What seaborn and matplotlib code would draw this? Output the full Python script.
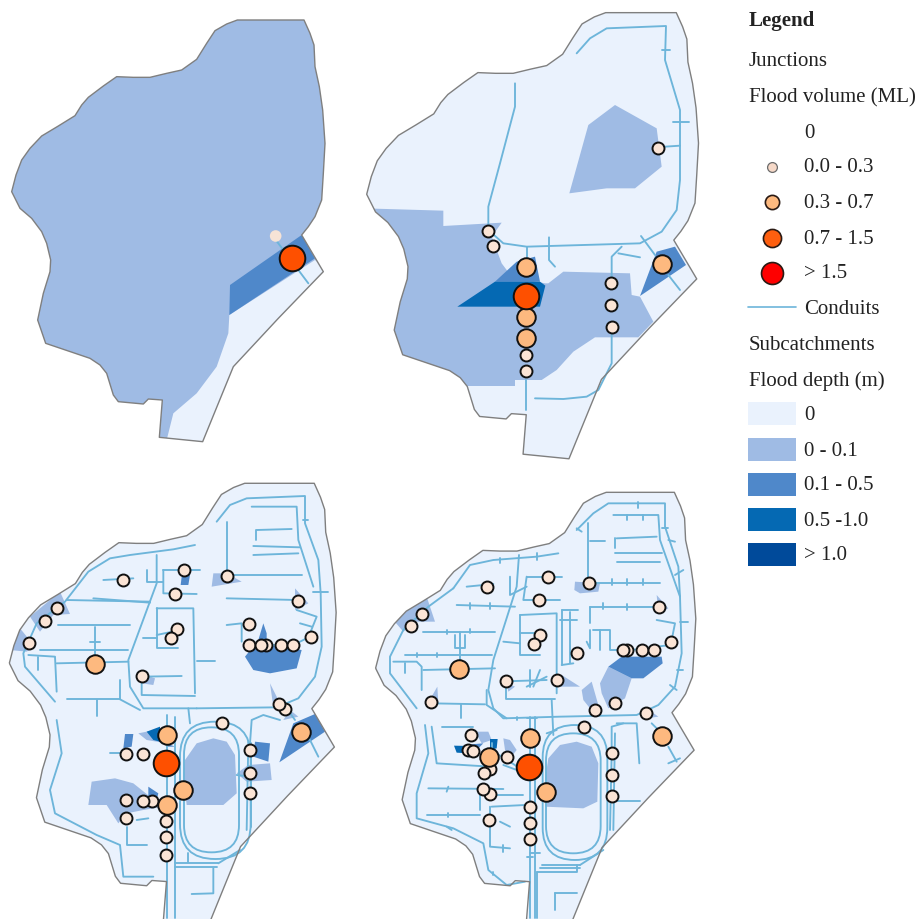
import matplotlib
matplotlib.use("Agg")
import matplotlib.pyplot as plt
from matplotlib.patches import Polygon, FancyBboxPatch, Rectangle
import pandas as pd
import seaborn as sns

sns.set_theme(style="white")
plt.rcParams['font.family'] = ['Liberation Serif', 'DejaVu Serif']

C0, C1, C2, C3, C4 = "#EAF2FD", "#9FBBE4", "#4F88CA", "#0569B3", "#004A9A"
CONDUIT = "#6DB5DA"
EDGE = "#7F7F7F"
J_COL = {"s": "#FBE4D5", "m": "#FDB97F", "l": "#FE5000", "f": "#F6E3D6"}
J_SIZE = {"s": 74, "m": 178, "l": 340, "f": 70}

# Coordinates below are read at 3x magnification of each panel's crop
ORIGIN = {1: (0, 0), 2: (360, 0), 3: (0, 460), 4: (360, 460)}
OUTLINE = [(35,575),(48,525),(65,480),(90,445),(125,408),(175,378),(225,347),(245,315),(265,292),(310,258),
           (350,230),(400,232),(450,232),(500,220),(545,210),(590,178),(620,130),(645,92),(680,72),(712,60),
           (912,60),(930,100),(942,135),(945,200),(958,260),(968,330),(975,430),(970,520),(965,600),(945,650),
           (925,680),(905,705),(970,815),(835,955),(700,1100),(655,1210),(608,1325),(478,1312),(487,1200),
           (445,1197),(430,1212),(355,1205),(340,1185),(320,1120),(300,1095),(270,1075),(137,1030),(113,960),
           (130,880),(150,815),(152,780),(140,730),(125,695),(95,655),(60,625)]
# outline placement per panel: x offset, y offset, x scale, y scale (crop units)
PLACE = {1: (0, 0, 1, 1), 2: (-17, -25.5, 1.059, 1.058), 3: (-8.5, 7, 1.043, 1.048), 4: (11, 35.5, 1.022, 1.0246)}

P1_POLY = [
 (C1, OUTLINE),
 (C0, [(945,780),(990,815),(700,1120),(620,1345),(500,1320),(520,1240),(590,1180),(650,1100),(685,1000),(688,945)]),
 (C2, [(690,855),(905,705),(945,775),(688,945)]),
]
P1_LINES = [[(820,710),(925,850)]]
P1_J = [("f",827,708),("l",875,775)]

P2_POLY = [
 (C1, [(10,625),(250,632),(250,678),(425,668),(395,710),(425,790),(455,830),(555,850),(565,850),(610,815),
       (810,820),(815,885),(840,890),(880,965),(835,1012),(705,1012),(640,1055),(590,1110),(545,1140),
       (465,1140),(465,1158),(330,1158),(250,1158),(10,1000)]),
 (C1, [(765,315),(890,385),(905,500),(825,565),(740,565),(628,580),(685,375)]),
 (C2, [(405,845),(470,785),(525,770),(540,845)]),
 (C2, [(890,755),(945,740),(978,795),(840,888)]),
 (C3, [(292,920),(405,845),(540,845),(556,857),(540,920)]),
]
P2_LINES = [
 [(465,250),(465,320),(420,490),(385,620),(385,690),(430,730),(500,740),(840,730),(905,695),(950,630),
  (960,540),(960,330),(915,180),(918,78),(740,85),(690,115),(650,160)],
 [(905,150),(930,150)],[(940,367),(988,367)],[(915,440),(960,437)],[(500,740),(500,790)],
 [(567,712),(567,780),(585,800)],[(755,830),(755,770),(785,740)],[(775,760),(840,772)],
 [(843,708),(885,765)],[(925,825),(960,870)],
 [(755,1000),(755,1090),(715,1170),(680,1190),(610,1197),(525,1195)],[(497,1140),(497,1230)],
]
P2_J = [("s",893,445),("s",385,693),("s",399,738),("s",753,848),("s",753,915),("s",755,980),
        ("m",497,1015),("s",497,1065),("s",497,1113),("m",907,793),("m",497,802),("m",497,950),("l",497,888)]

P3_POLY = [
 (C1, [(550,950),(555,900),(590,850),(640,835),(680,845),(705,885),(710,1000),(670,1035),(560,1035)]),
 (C1, [(275,965),(345,955),(400,970),(450,1010),(490,1040),(430,1050),(380,1060),(355,1090),(320,1035),(265,1035)]),
 (C1, [(90,470),(180,395),(210,462),(160,465),(120,515)]),
 (C1, [(30,570),(60,505),(105,560),(80,575)]),
 (C1, [(640,340),(680,340),(725,365),(635,380)]),
 (C1, [(885,385),(925,430),(885,450)]),
 (C1, [(710,940),(745,915),(810,910),(815,960),(740,965)]),
 (C1, [(810,670),(850,750),(820,740)]),
 (C1, [(420,640),(465,655),(460,675),(425,670)]),
 (C1, [(415,820),(465,810),(500,850),(440,840)]),
 (C1, [(870,750),(895,770),(850,780)]),
 (C2, [(735,590),(775,540),(790,490),(800,520),(800,555),(905,570),(890,625),(810,640),(760,630)]),
 (C2, [(765,845),(810,850),(805,905),(760,890)]),
 (C2, [(375,822),(400,822),(395,860),(370,865)]),
 (C2, [(880,790),(945,762),(975,815),(838,907)]),
 (C2, [(545,350),(570,345),(565,375),(542,375)]),
 (C2, [(445,980),(475,1000),(470,1020),(445,1015)]),
 (C2, [(500,850),(525,860),(500,860)]),
 (C3, [(440,815),(480,800),(480,845),(460,840)]),
]
P3_LINES = [
 [(650,185),(690,135),(740,115),(915,108),(915,190),(955,300),(962,400),(965,560),(945,650),(895,715),(830,742),(590,745)],
 [(755,140),(890,140),(895,240),(940,380)],
 [(770,210),(875,207)],[(768,210),(768,240)],[(760,258),(900,262)],[(760,285),(895,280)],
 [(680,185),(680,345)],[(680,345),(905,345)],[(680,415),(890,420)],
 [(890,450),(950,470),(930,520)],[(900,490),(935,500)],[(680,495),(725,490),(725,545)],
 [(745,555),(880,555),(930,530)],[(910,180),(925,180)],[(940,395),(985,395)],
 [(585,255),(520,268),(390,285),(330,295),(265,335),(195,425),(110,490),(70,580),(75,620),(165,725)],
 [(470,285),(470,370),(385,600),(390,680),(430,745),(590,745)],
 [(200,420),(450,425)],[(280,415),(450,428)],[(310,360),(400,355)],[(440,330),(440,365),(490,365)],
 [(490,330),(600,330)],[(490,330),(490,400),(590,402)],
 [(470,445),(580,445),(585,700)],[(470,445),(470,565),(535,565)],[(470,525),(540,510)],[(430,535),(470,535)],
 [(590,603),(645,603)],[(425,650),(545,648)],[(425,650),(425,705),(585,708)],
 [(175,495),(390,495)],[(120,570),(385,570)],[(285,500),(285,610)],[(270,545),(300,545)],
 [(85,585),(165,590),(170,695)],[(170,610),(385,605)],[(115,590),(115,630)],
 [(200,718),(360,718)],[(290,720),(290,768)],[(360,660),(360,718),(420,750)],
 [(170,780),(185,880),(150,990),(165,1060),(290,1125),(360,1155),(370,1250),(460,1250)],
 [(500,765),(500,1375)],[(525,770),(525,1375)],[(565,745),(570,790)],
 [(750,850),(755,780),(790,765),(840,780)],[(745,845),(740,1110)],[(752,850),(752,1100)],
 [(860,745),(885,780)],[(925,830),(955,890)],[(380,1100),(380,1155),(440,1155)],[(410,1080),(445,1075)],
 [(330,880),(380,880)],[(525,1210),(655,1210)],[(525,1222),(650,1222)],[(565,1180),(565,1205)],
 [(640,1225),(640,1300),(575,1302)],[(655,1210),(720,1170)],[(710,945),(750,950)],
]
P3_TRACK = [(540,785,212,412,105),(552,802,165,375,82)]
P3_J = [("s",368,361),("s",553,331),("s",525,402),("s",680,347),("s",893,424),("s",172,444),("s",136,482),
        ("s",87,550),("s",747,491),("s",932,530),("s",532,506),("s",512,534),("s",747,555),("s",798,555),
        ("s",783,555),("s",843,555),("s",880,555),("s",427,649),("s",855,748),("s",838,731),("s",665,789),
        ("s",377,881),("s",428,881),("s",751,870),("s",751,938),("s",751,999),("s",377,1021),("s",455,1024),
        ("s",430,1022),("s",377,1074),("m",500,1035),("s",498,1082),("s",498,1132),("s",498,1185),
        ("m",285,612),("m",500,824),("m",548,990),("m",903,816),("l",499,910)]

P4_POLY = [
 (C1, [(555,960),(565,895),(600,855),(650,845),(695,860),(715,910),(712,1025),(670,1045),(555,1040)]),
 (C1, [(100,480),(200,410),(225,485),(170,485),(130,515)]),
 (C1, [(645,365),(720,370),(715,395),(660,400),(643,390)]),
 (C1, [(890,405),(925,445),(895,460)]),
 (C1, [(665,690),(695,665),(715,735),(690,745),(670,720)]),
 (C1, [(720,670),(745,620),(815,655),(795,715),(745,745),(725,700)]),
 (C1, [(605,645),(660,680),(600,680)]),
 (C1, [(212,715),(232,680),(235,730)]),
 (C1, [(440,670),(465,680),(445,695)]),
 (C1, [(430,835),(450,840),(470,870),(450,895),(435,870)]),
 (C1, [(345,815),(385,815),(395,840),(365,850)]),
 (C1, [(860,745),(895,770),(860,775)]),
 (C2, [(745,620),(785,590),(905,590),(908,610),(850,655),(815,655)]),
 (C2, [(310,855),(370,850),(340,880)]),
 (C3, [(282,857),(330,858),(325,880),(290,878)]),
 (C3, [(390,837),(413,837),(410,865),(390,870)]),
]
P4_LINES = [
 [(650,210),(700,160),(745,130),(915,130),(915,200),(955,320),(960,410),(965,580),(945,680),(895,735),(830,765),
  (600,770),(430,775),(400,745),(385,690),(400,600),(470,380),(477,285)],
 [(595,280),(530,290),(400,300),(330,315),(280,385)],
 [(760,165),(895,165),(900,240),(960,410)],
 [(770,235),(890,230)],[(765,235),(765,265)],[(765,280),(905,280)],[(770,305),(900,305)],
 [(685,190),(685,368)],[(685,368),(900,368)],[(690,243),(735,243)],
 [(690,440),(890,440)],[(690,440),(690,490)],[(890,480),(945,490),(935,540)],
 [(690,510),(690,565),(680,545)],[(700,510),(750,510),(750,570),(780,570)],[(720,510),(720,570)],[(775,575),(930,555)],
 [(320,380),(400,372)],[(450,350),(450,405),(500,380)],[(500,350),(605,350)],[(500,350),(490,420),(600,420)],
 [(290,435),(465,440)],[(190,515),(405,515)],[(135,585),(395,585)],[(300,515),(300,625)],
 [(285,525),(285,565),(315,565),(315,525)],[(100,605),(170,605),(185,620),(185,690)],[(135,610),(135,640)],
 [(190,630),(405,625)],[(280,385),(205,440),(130,510),(90,590),(90,640),(170,745)],
 [(215,730),(375,733)],[(303,733),(303,775)],[(380,690),(380,735),(440,775)],
 [(480,465),(590,460),(590,700)],[(480,465),(480,585),(540,585)],[(480,520),(530,520)],[(430,545),(480,550)],
 [(605,450),(605,615)],[(630,455),(630,610)],[(605,450),(655,450)],[(600,480),(650,480)],[(605,615),(640,610)],
 [(437,664),(560,660)],[(437,664),(437,718),(585,718)],[(510,630),(510,680)],[(540,630),(520,680)],[(500,680),(560,650)],
 [(510,770),(510,1375)],[(525,770),(525,1375)],[(575,720),(580,825)],
 [(755,880),(755,800),(790,790)],[(770,790),(830,790),(838,910)],[(755,880),(750,1110)],[(765,820),(760,1110)],
 [(875,790),(905,820)],[(925,860),(950,905)],[(925,910),(960,895)],[(757,1022),(840,1022)],
 [(195,795),(205,880),(170,1000),(170,1075),(280,1105),(370,1150),(385,1230),(440,1275),(495,1265)],
 [(215,800),(230,910),(390,920)],[(245,800),(340,800)],[(205,985),(430,987)],[(360,1000),(360,1050)],
 [(200,1065),(360,1065)],[(395,1040),(495,1035)],[(390,1040),(390,1160),(450,1165)],[(420,1085),(450,1100)],
 [(400,1005),(490,1005)],[(530,1235),(650,1235),(650,1215)],[(530,1235),(530,1375)],[(585,1300),(650,1300)],
 [(585,1300),(585,1350)],[(545,1215),(660,1215)],[(540,1225),(660,1225)],[(660,1215),(730,1170)],
 [(410,880),(480,925)],[(500,1190),(520,1190)],[(430,915),(470,930)],
 # short stubs along the pipes
 [(835,125),(835,145)],[(800,165),(800,180)],[(850,165),(850,180)],[(905,205),(925,205)],[(925,240),(945,245)],
 [(945,345),(970,330)],[(960,485),(985,485)],[(950,630),(970,630)],[(930,675),(950,690)],[(650,205),(665,215)],
 [(420,295),(420,310)],[(530,280),(530,300)],[(755,358),(755,375)],[(800,358),(800,375)],[(850,358),(850,375)],
 [(330,430),(330,448)],[(390,430),(390,448)],[(730,430),(730,448)],[(800,432),(800,450)],[(260,510),(260,522)],
 [(330,508),(330,520)],[(170,580),(170,592)],[(230,578),(230,592)],[(265,980),(260,995)],[(260,1100),(275,1110)],
 [(265,1060),(265,1072)],[(430,1155),(430,1175)],[(400,1235),(400,1245)],[(510,1180),(540,1180)],
 [(395,850),(395,870)],[(560,820),(590,810)],[(500,775),(530,775)],[(470,770),(470,780)],
]
P4_TRACK = [(548,795,194,405,97),(558,820,164,360,82)]
P4_J = [("s",380,381),("s",563,352),("s",536,421),("s",686,368),("s",896,441),("s",187,463),("s",152,499),
        ("s",540,524),("s",521,551),("s",652,579),("s",933,547),("s",802,571),("s",788,571),("s",846,571),
        ("s",882,571),("s",437,664),("s",592,661),("s",213,727),("s",704,749),("s",765,729),("s",857,760),
        ("s",672,800),("s",332,826),("s",325,870),("s",340,872),("s",440,890),("s",390,928),("m",388,890),
        ("s",372,940),("s",390,1002),("s",369,988),("s",757,880),("s",757,945),("s",757,1008),("s",509,1042),
        ("s",509,1088),("s",509,1137),("s",388,1081),("m",297,628),("m",510,835),("m",557,997),("m",905,828),
        ("l",508,920)]

PANELS = {1: (P1_POLY, P1_LINES, [], P1_J), 2: (P2_POLY, P2_LINES, [], P2_J),
          3: (P3_POLY, P3_LINES, P3_TRACK, P3_J), 4: (P4_POLY, P4_LINES, P4_TRACK, P4_J)}

# Legend content
LEG_HEAD = [("Legend", 21, True), ("Junctions", 62, False), ("Flood volume (ML)", 98, False),
            ("Subcatchments", 345, False), ("Flood depth (m)", 381, False)]
LEG_J_LABELS = ["0", "0.0 - 0.3", "0.3 - 0.7", "0.7 - 1.5", "> 1.5"]
LEG_J_Y = [133, 168, 203, 239, 274]
LEG_J_COL = [None, "#F6D9C8", "#FDB97F", "#FE5F0F", "#FE0000"]
LEG_J_S = [0, 50, 105, 170, 250]
LEG_D_LABELS = ["0", "0 - 0.1", "0.1 - 0.5", "0.5 -1.0", "> 1.0"]
LEG_D_Y = [402, 438, 473, 508, 543]
LEG_D_COL = [C0, C1, C2, C3, C4]


def to_px(panel, pts):
    ox, oy = ORIGIN[panel]
    return [(ox + x / 3, oy + y / 3) for x, y in pts]


fig = plt.figure(figsize=(9.24, 9.19), dpi=100, facecolor="white")
ax = fig.add_axes([0, 0, 1, 1])
ax.set_xlim(0, 924)
ax.set_ylim(919, 0)
ax.axis("off")

for k, (polys, lines, tracks, juncs) in PANELS.items():
    dx, dy, sx, sy = PLACE[k]
    out = to_px(k, [(dx + x * sx, dy + y * sy) for x, y in OUTLINE])
    base = Polygon(out, closed=True, fc=C0, ec="none", zorder=1)
    ax.add_patch(base)
    for col, pts in polys:
        use = out if pts is OUTLINE else to_px(k, pts)
        patch = Polygon(use, closed=True, fc=col, ec="none", zorder=2)
        ax.add_patch(patch)
        patch.set_clip_path(base)
    for pts in lines:
        p = to_px(k, pts)
        ax.plot([a for a, _ in p], [b for _, b in p], color=CONDUIT, lw=1.35, zorder=3,
                solid_capstyle="round", solid_joinstyle="round")
    for x, y, w, h, r in tracks:
        (px, py), = to_px(k, [(x + r, y + r)])
        ax.add_patch(FancyBboxPatch((px, py), (w - 2 * r) / 3, (h - 2 * r) / 3,
                                    boxstyle=f"round,pad={r/3},rounding_size={r/3}",
                                    fc="none", ec=CONDUIT, lw=1.35, zorder=3))
    ax.add_patch(Polygon(out, closed=True, fc="none", ec=EDGE, lw=1.0, zorder=4, joinstyle="round"))
    df = pd.DataFrame(juncs, columns=["cls", "x", "y"])
    ox, oy = ORIGIN[k]
    df["px"] = ox + df["x"] / 3
    df["py"] = oy + df["y"] / 3
    for cls in ["f", "s", "m", "l"]:
        sub = df[df["cls"] == cls]
        if len(sub):
            sns.scatterplot(data=sub, x="px", y="py", color=J_COL[cls], s=J_SIZE[cls],
                            edgecolor="none" if cls == "f" else "#111111",
                            linewidth=0 if cls == "f" else 1.4, ax=ax, legend=False, zorder=5)

TXT = dict(fontsize=15.0, color="#222222", va="center", ha="left")
for label, y, bold in LEG_HEAD:
    ax.text(749, y, label, fontweight="bold" if bold else "normal", **TXT)
leg = pd.DataFrame({"x": [772] * 4, "y": [167, 202, 238, 273], "c": LEG_J_COL[1:], "s": LEG_J_S[1:]})
for i, row in leg.iterrows():
    sns.scatterplot(x=[row.x], y=[row.y], color=row.c, s=row.s,
                    edgecolor="#6b6b6b" if i == 0 else "#2a1a14", linewidth=0.9 if i == 0 else 1.2,
                    ax=ax, legend=False, zorder=5)
for label, y in zip(LEG_J_LABELS, LEG_J_Y):
    ax.text(804, y, label, **TXT)
ax.plot([748, 796], [307, 307], color=CONDUIT, lw=1.2)
ax.text(804, 309, "Conduits", **TXT)
for label, y, col in zip(LEG_D_LABELS, LEG_D_Y, LEG_D_COL):
    ax.add_patch(Rectangle((748, y), 48, 23, fc=col, ec="none"))
    ax.text(804, y + 13, label, **TXT)

ax.set_xlim(0, 924)
ax.set_ylim(919, 0)
ax.axis("off")
fig.savefig("out.png", dpi=100, facecolor="white")
